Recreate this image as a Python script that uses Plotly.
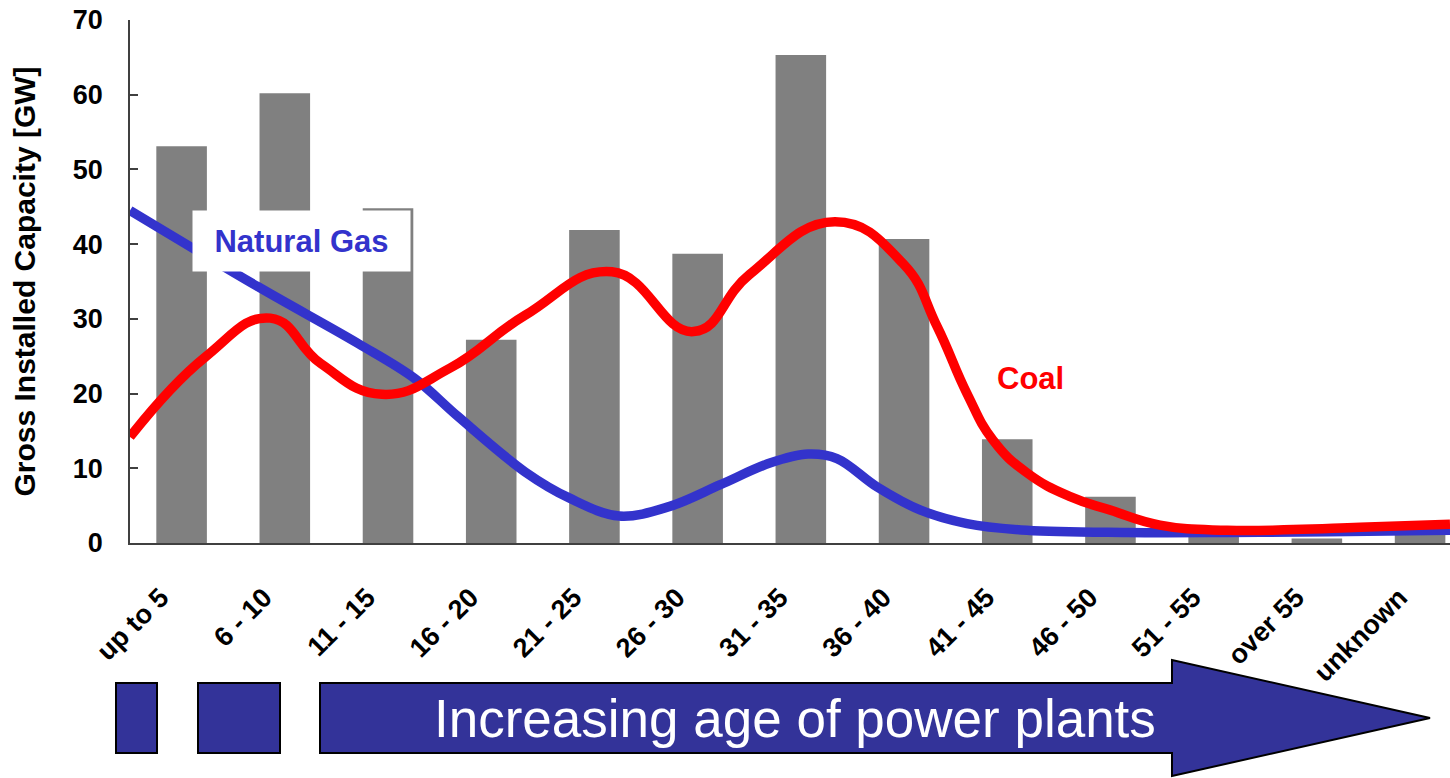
import plotly.graph_objects as go

# age classes (years) and total gross installed capacity per class [GW]
age_classes = ["up to 5", "6 - 10", "11 - 15", "16 - 20", "21 - 25", "26 - 30",
               "31 - 35", "36 - 40", "41 - 45", "46 - 50", "51 - 55", "over 55", "unknown"]
total_gw = [53.1, 60.2, 44.8, 27.2, 41.9, 38.7, 65.3, 40.7, 13.9, 6.2, 1.6, 0.6, 1.4]

# smoothed trend curves (x = position in age-class index)
coal_pos = [-0.5, 0.23, 0.86, 1.35, 1.94, 2.6, 3.33, 4.17, 4.96, 5.5,
            6.33, 6.99, 7.32, 7.61, 7.86, 8.19, 8.61, 9.0, 9.48, 10.13,
            10.77, 11.42, 12.29]
coal_gw = [14.2, 24.9, 30.1, 24.0, 19.9, 23.4, 30.5, 36.3, 28.3, 35.9,
           43.0, 37.4, 29.0, 20.0, 13.8, 9.4, 6.2, 4.4, 2.4, 1.7,
           1.8, 2.1, 2.5]
gas_pos = [-0.5, 0.74, 1.71, 2.26, 2.68, 3.33, 3.76, 4.24, 4.73, 5.22, 5.70, 6.07,
           6.35, 6.74, 7.16, 7.61, 8.19, 9.16, 10.13, 11.10, 12.29]
gas_gw = [44.5, 34.3, 26.7, 22.0, 16.9, 9.5, 6.0, 3.6, 4.9, 7.8, 10.7, 11.9,
          11.3, 7.5, 4.4, 2.6, 1.7, 1.4, 1.4, 1.5, 1.7]

W, H = 1450, 778
L, R, T, B = 130, 0, 20, 235   # plot area in pixels
FONT = "Liberation Sans, Arial, sans-serif"
BLUE = "#333399"


def px(x):
    return (x - L) / (W - L - R)


def py(y):
    return (H - B - y) / (H - T - B)


fig = go.Figure()

fig.add_trace(go.Bar(
    x=list(range(len(age_classes))), y=total_gw,
    width=0.49, marker=dict(color="#808080", line=dict(width=0)),
    hoverinfo="y"
))
fig.add_trace(go.Scatter(
    x=gas_pos, y=gas_gw, mode="lines", name="Natural Gas",
    line=dict(color="#3333cc", width=9.5, shape="spline", smoothing=1.0)
))
fig.add_trace(go.Scatter(
    x=coal_pos, y=coal_gw, mode="lines", name="Coal",
    line=dict(color="#ff0000", width=9.5, shape="spline", smoothing=1.3)
))

# labels on the curves
fig.add_annotation(
    xref="paper", yref="paper", x=px(301.5), y=py(241),
    text="<b>Natural Gas</b>", showarrow=False,
    font=dict(family=FONT, size=31, color="#3333cc"),
    bgcolor="white", width=215, height=58, xanchor="center", yanchor="middle"
)
fig.add_annotation(
    xref="paper", yref="paper", x=px(1030), y=py(378),
    text="<b>Coal</b>", showarrow=False,
    font=dict(family=FONT, size=31, color="#ff0000"),
    xanchor="center", yanchor="middle"
)

# "Increasing age" arrow below the axis
box_style = dict(type="rect", xref="paper", yref="paper", fillcolor=BLUE,
                 line=dict(color="black", width=2), layer="above")
fig.add_shape(x0=px(116), x1=px(157), y0=py(753), y1=py(683), **box_style)
fig.add_shape(x0=px(198), x1=px(280), y0=py(753), y1=py(683), **box_style)
arrow = [(320, 683), (1172, 683), (1172, 660), (1430, 718),
         (1172, 776), (1172, 753), (320, 753)]
path = "M " + " L ".join(f"{px(a):.5f},{py(b):.5f}" for a, b in arrow) + " Z"
fig.add_shape(type="path", xref="paper", yref="paper", path=path,
              fillcolor=BLUE, line=dict(color="black", width=2), layer="above")
fig.add_annotation(
    xref="paper", yref="paper", x=px(795), y=py(718),
    text="Increasing age of power plants", showarrow=False,
    font=dict(family=FONT, size=53, color="white"),
    xanchor="center", yanchor="middle"
)

fig.update_layout(
    width=W, height=H,
    margin=dict(l=L, r=R, t=T, b=B, autoexpand=False),
    plot_bgcolor="white", paper_bgcolor="white",
    showlegend=False,
    font=dict(family=FONT, color="black"),
)
fig.update_xaxes(
    range=[-0.5, 12.29],
    # labels sit a little left of the bar centres, as in the original
    tickmode="array", tickvals=[i - 0.2 for i in range(len(age_classes))],
    ticktext=[f"<b>{c}</b>" for c in age_classes],
    tickangle=-45, tickfont=dict(family=FONT, size=27, color="black"),
    ticks="", ticklabelstandoff=26,
    showline=True, linecolor="#404040", linewidth=2,
    showgrid=False, zeroline=False,
)
fig.update_yaxes(
    range=[0, 70], dtick=10,
    tickfont=dict(family=FONT, size=27, color="black"),
    tickprefix="<b>", ticksuffix="</b>",
    ticks="inside", ticklen=8, tickcolor="#404040", tickwidth=1.5,
    ticklabelstandoff=20,
    showline=True, linecolor="#404040", linewidth=1.5,
    showgrid=False, zeroline=False,
    title=dict(text="<b>Gross Installed Capacity [GW]</b>",
               font=dict(family=FONT, size=30, color="black"), standoff=28),
)

fig.write_html("out.html", config={"displayModeBar": False},
               post_script="document.body.style.margin='0';")
